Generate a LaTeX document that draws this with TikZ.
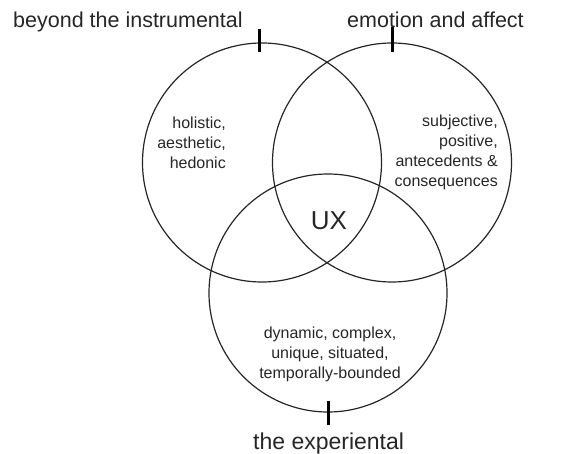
\documentclass[tikz,border=0pt]{standalone}
\usepackage{fontspec}
\setmainfont{Liberation Sans}
\usepackage{xcolor}
\usepackage{tikz}
\usetikzlibrary{calc}
\definecolor{inkgray}{gray}{0.15}

\begin{document}
\begin{tikzpicture}[x=1pt, y=-1pt,
    ring/.style={draw=inkgray, line width=1.2pt, circle, inner sep=0pt, minimum size=#1},
    tickmark/.style={draw=black, line width=3pt},
    biglabel/.style={font=\fontsize{21.5}{24}\selectfont, text=inkgray, inner sep=0pt},
    smalltext/.style={font=\fontsize{16}{20}\selectfont, text=inkgray, inner sep=0pt}]
    \useasboundingbox (0,0) rectangle (586,454);

    % The three circles
    \node[ring=239pt] (instr) at (262,162.5) {};
    \node[ring=239pt] (emo) at (392,162.5) {};
    \node[ring=238pt] (exper) at (328,293) {};

    % Ticks on the rims
    \draw[tickmark] ([xshift=-3pt,yshift=13pt]instr.north) -- ([xshift=-3pt,yshift=-10pt]instr.north);
    \draw[tickmark] ([yshift=15pt]emo.north) -- ([yshift=-10pt]emo.north);
    \draw[tickmark] ([yshift=12pt]exper.south) -- ([yshift=-12pt]exper.south);

    % Outer labels
    \node[biglabel, anchor=base west] (lblinstr) at (13,28) {beyond the instrumental};
    \node[biglabel, anchor=base west] (lblemo) at (347,28) {emotion and affect};
    \node[biglabel, anchor=base west, font=\fontsize{23}{26}\selectfont] (lblexper) at (253,449) {the experiental};

    % Inside texts
    \node[smalltext, align=right, anchor=east] (txtinstr) at (226,143) {holistic,\\aesthetic,\\hedonic};
    \node[smalltext, align=right, anchor=east] (txtemo) at (498,152) {subjective,\\positive,\\antecedents \&\\consequences};
    \node[smalltext, align=center] (txtexper) at (330,354) {dynamic, complex,\\unique, situated,\\temporally-bounded};

    % Centre
    \node[font=\fontsize{26}{30}\selectfont, text=inkgray, inner sep=0pt] (ux) at (329,221) {UX};
\end{tikzpicture}
\end{document}
